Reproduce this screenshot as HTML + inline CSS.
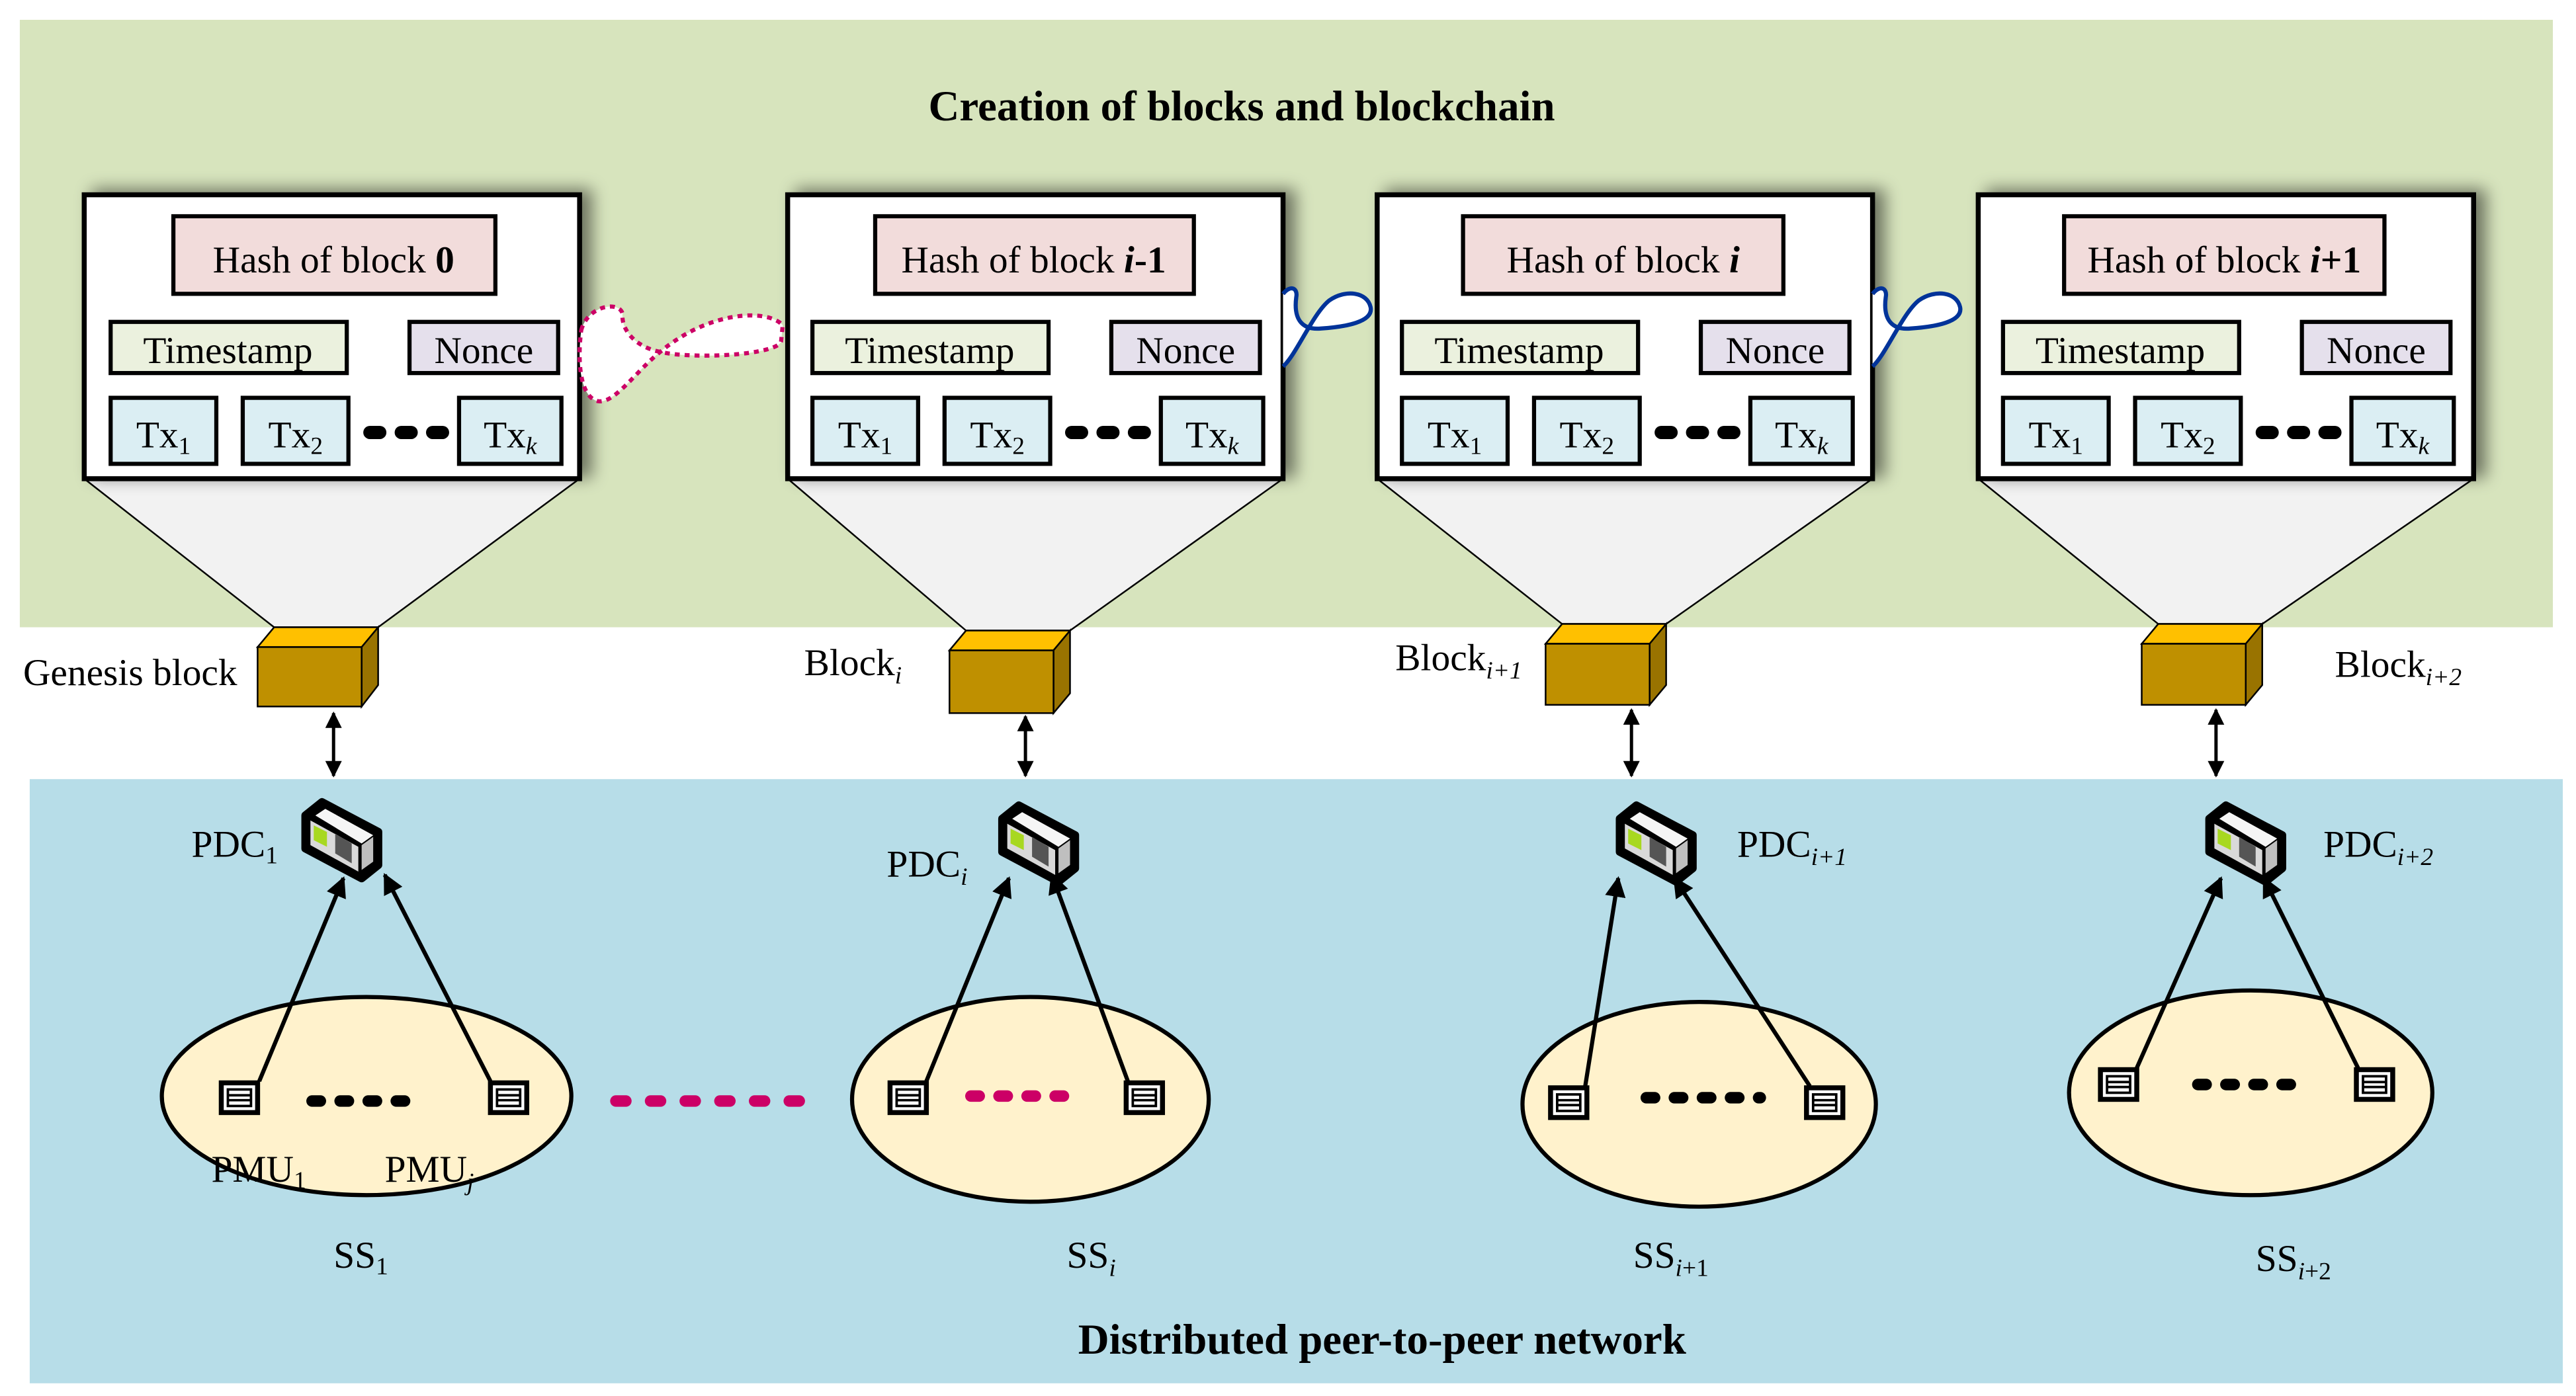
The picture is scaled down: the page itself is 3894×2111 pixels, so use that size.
<!DOCTYPE html>
<html><head><meta charset="utf-8"><style>html,body{margin:0;padding:0;background:#fff}svg{display:block}</style></head>
<body>
<svg xmlns="http://www.w3.org/2000/svg" width="3894" height="2111" viewBox="0 0 1560 845.7" font-family="Liberation Serif, serif">
<defs>
<filter id="sh" x="-10%" y="-10%" width="130%" height="130%"><feGaussianBlur in="SourceAlpha" stdDeviation="5"/><feOffset dx="6" dy="-2"/><feComponentTransfer><feFuncA type="linear" slope="0.5"/></feComponentTransfer><feMerge><feMergeNode/><feMergeNode in="SourceGraphic"/></feMerge></filter>
<marker id="ah" viewBox="0 0 10 10" refX="9" refY="5" markerWidth="5" markerHeight="5" orient="auto-start-reverse"><path d="M0,0 L10,5 L0,10 Z" fill="#000"/></marker>
<g id="pdc">
<path d="M4,8 L14,0 L48,18 L48,38 L38,46 L4,28 Z" fill="#000" stroke="#000" stroke-width="5" stroke-linejoin="round"/>
<path d="M7,11 L36,27 L36,42 L7,26 Z" fill="#d9d9d9"/>
<path d="M10,8 L16,4 L45,20 L38,25 Z" fill="#f5f5f5"/>
<path d="M38,26 L45,21 L45,36 L38,41 Z" fill="#bfbfbf"/>
<path d="M9,14 L17,18 L17,27 L9,23 Z" fill="#a8d820"/>
<path d="M22,19 L32,25 L32,37 L22,31 Z" fill="#555"/>
</g>
<g id="pmu">
<rect x="-11" y="-9" width="22" height="18" fill="#fff" stroke="#000" stroke-width="3"/>
<rect x="-7" y="-5" width="14" height="10" fill="#fff" stroke="#000" stroke-width="1.5"/>
<line x1="-7" y1="-1.5" x2="7" y2="-1.5" stroke="#000" stroke-width="1.5"/>
<line x1="-7" y1="1.5" x2="7" y2="1.5" stroke="#000" stroke-width="1.5"/>
</g>
</defs>

<rect x="12" y="12" width="1534" height="368" fill="#d7e4bd"/>
<rect x="18" y="472" width="1534" height="366" fill="#b7dde8"/>
<text x="752" y="73" font-size="26" font-weight="bold" text-anchor="middle">Creation of blocks and blockchain</text>
<text x="837" y="820" font-size="26" font-weight="bold" text-anchor="middle">Distributed peer-to-peer network</text>

<g fill="#f2f2f2" stroke="#000" stroke-width="1">
<polygon points="51,290 351,290 229,380 166,380"/>
<polygon points="477,290 777,290 648,382 585,382"/>
<polygon points="834,290 1134,290 1009,378 946,378"/>
<polygon points="1198,290 1498,290 1370,378 1307,378"/>
</g>

<g filter="url(#sh)" fill="#fff" stroke="#000" stroke-width="3">
<rect x="51" y="118" width="300" height="172"/>
<rect x="477" y="118" width="300" height="172"/>
<rect x="834" y="118" width="300" height="172"/>
<rect x="1198" y="118" width="300" height="172"/>
</g>

<g stroke="#000" stroke-width="2.5">
<rect x="105" y="131" width="195" height="47" fill="#f2dcdb"/>
<rect x="67" y="195" width="143" height="31" fill="#ebf1de"/>
<rect x="248" y="195" width="90" height="31" fill="#e5e0ec"/>
<rect x="67" y="241" width="64" height="40" fill="#dbeef3"/>
<rect x="147" y="241" width="64" height="40" fill="#dbeef3"/>
<rect x="278" y="241" width="62" height="40" fill="#dbeef3"/>
<rect x="530" y="131" width="193" height="47" fill="#f2dcdb"/>
<rect x="492" y="195" width="143" height="31" fill="#ebf1de"/>
<rect x="673" y="195" width="90" height="31" fill="#e5e0ec"/>
<rect x="492" y="241" width="64" height="40" fill="#dbeef3"/>
<rect x="572" y="241" width="64" height="40" fill="#dbeef3"/>
<rect x="703" y="241" width="62" height="40" fill="#dbeef3"/>
<rect x="886" y="131" width="194" height="47" fill="#f2dcdb"/>
<rect x="849" y="195" width="143" height="31" fill="#ebf1de"/>
<rect x="1030" y="195" width="90" height="31" fill="#e5e0ec"/>
<rect x="849" y="241" width="64" height="40" fill="#dbeef3"/>
<rect x="929" y="241" width="64" height="40" fill="#dbeef3"/>
<rect x="1060" y="241" width="62" height="40" fill="#dbeef3"/>
<rect x="1250" y="131" width="194" height="47" fill="#f2dcdb"/>
<rect x="1213" y="195" width="143" height="31" fill="#ebf1de"/>
<rect x="1394" y="195" width="90" height="31" fill="#e5e0ec"/>
<rect x="1213" y="241" width="64" height="40" fill="#dbeef3"/>
<rect x="1293" y="241" width="64" height="40" fill="#dbeef3"/>
<rect x="1424" y="241" width="62" height="40" fill="#dbeef3"/>
</g>

<g stroke="#000" stroke-width="8" stroke-linecap="round" stroke-dasharray="6 13">
<line x1="224" y1="262" x2="270" y2="262"/>
<line x1="649" y1="262" x2="695" y2="262"/>
<line x1="1006" y1="262" x2="1052" y2="262"/>
<line x1="1370" y1="262" x2="1416" y2="262"/>
</g>

<g font-size="23" text-anchor="middle">
<text x="202" y="165">Hash of block <tspan font-weight="bold">0</tspan></text>
<text x="138" y="220">Timestamp</text><text x="293" y="220">Nonce</text>
<text x="99" y="271">Tx<tspan font-size="15" dy="4">1</tspan></text>
<text x="179" y="271">Tx<tspan font-size="15" dy="4">2</tspan></text>
<text x="309" y="271">Tx<tspan font-size="15" dy="4" font-style="italic">k</tspan></text>

<text x="626" y="165">Hash of block <tspan font-weight="bold" font-style="italic">i</tspan><tspan font-weight="bold">-1</tspan></text>
<text x="563" y="220">Timestamp</text><text x="718" y="220">Nonce</text>
<text x="524" y="271">Tx<tspan font-size="15" dy="4">1</tspan></text>
<text x="604" y="271">Tx<tspan font-size="15" dy="4">2</tspan></text>
<text x="734" y="271">Tx<tspan font-size="15" dy="4" font-style="italic">k</tspan></text>

<text x="983" y="165">Hash of block <tspan font-weight="bold" font-style="italic">i</tspan></text>
<text x="920" y="220">Timestamp</text><text x="1075" y="220">Nonce</text>
<text x="881" y="271">Tx<tspan font-size="15" dy="4">1</tspan></text>
<text x="961" y="271">Tx<tspan font-size="15" dy="4">2</tspan></text>
<text x="1091" y="271">Tx<tspan font-size="15" dy="4" font-style="italic">k</tspan></text>

<text x="1347" y="165">Hash of block <tspan font-weight="bold" font-style="italic">i</tspan><tspan font-weight="bold">+1</tspan></text>
<text x="1284" y="220">Timestamp</text><text x="1439" y="220">Nonce</text>
<text x="1245" y="271">Tx<tspan font-size="15" dy="4">1</tspan></text>
<text x="1325" y="271">Tx<tspan font-size="15" dy="4">2</tspan></text>
<text x="1455" y="271">Tx<tspan font-size="15" dy="4" font-style="italic">k</tspan></text>
</g>

<path d="M352,200 C356,185 375,182 377,190 C376,200 385,210 399,213 C420,218 470,215 473,207 L474,197 C465,187 430,188 400,213 C385,225 372,245 362,243 C350,240 350,215 352,200 Z" fill="#fff" stroke="#cc0066" stroke-width="2.5" stroke-dasharray="3 3"/>
<path d="M777,178 C782,172 786,175 785,180 C783,195 790,200 800,199 C815,198 832,195 830,186 C828,177 815,175 805,182 C795,190 785,215 777,222" fill="#fff" stroke="#003399" stroke-width="2.5"/>
<path d="M1134,178 C1139,172 1143,175 1142,180 C1140,195 1147,200 1157,199 C1172,198 1189,195 1187,186 C1185,177 1172,175 1162,182 C1152,190 1142,215 1134,222" fill="#fff" stroke="#003399" stroke-width="2.5"/>

<g stroke="#000" stroke-width="1">
<g transform="translate(156,392)"><polygon points="0,0 10,-12 73,-12 63,0" fill="#ffc000"/><polygon points="63,0 73,-12 73,23 63,36" fill="#997300"/><rect width="63" height="36" fill="#bf9000"/></g>
<g transform="translate(575,394)"><polygon points="0,0 10,-12 73,-12 63,0" fill="#ffc000"/><polygon points="63,0 73,-12 73,26 63,38" fill="#997300"/><rect width="63" height="38" fill="#bf9000"/></g>
<g transform="translate(936,390)"><polygon points="0,0 10,-12 73,-12 63,0" fill="#ffc000"/><polygon points="63,0 73,-12 73,25 63,37" fill="#997300"/><rect width="63" height="37" fill="#bf9000"/></g>
<g transform="translate(1297,390)"><polygon points="0,0 10,-12 73,-12 63,0" fill="#ffc000"/><polygon points="63,0 73,-12 73,25 63,37" fill="#997300"/><rect width="63" height="37" fill="#bf9000"/></g>
</g>

<g font-size="23">
<text x="14" y="415">Genesis block</text>
<text x="487" y="409">Block<tspan font-size="15" dy="5" font-style="italic">i</tspan></text>
<text x="845" y="406">Block<tspan font-size="15" dy="5" font-style="italic">i+1</tspan></text>
<text x="1414" y="410">Block<tspan font-size="15" dy="5" font-style="italic">i+2</tspan></text>
</g>

<g stroke="#000" stroke-width="2" marker-start="url(#ah)" marker-end="url(#ah)">
<line x1="202" y1="432" x2="202" y2="470"/>
<line x1="621" y1="434" x2="621" y2="470"/>
<line x1="988" y1="430" x2="988" y2="470"/>
<line x1="1342" y1="430" x2="1342" y2="470"/>
</g>

<g fill="#fff2cc" stroke="#000" stroke-width="2.5">
<ellipse cx="222" cy="664" rx="124" ry="60"/>
<ellipse cx="624" cy="666" rx="108" ry="62"/>
<ellipse cx="1029" cy="669" rx="107" ry="62"/>
<ellipse cx="1363" cy="662" rx="110" ry="62"/>
</g>

<use href="#pdc" x="181" y="486"/>
<use href="#pdc" x="603" y="488"/>
<use href="#pdc" x="977" y="488"/>
<use href="#pdc" x="1334" y="488"/>

<use href="#pmu" x="145" y="665"/><use href="#pmu" x="308" y="665"/>
<use href="#pmu" x="550" y="665"/><use href="#pmu" x="693" y="665"/>
<use href="#pmu" x="950" y="668"/><use href="#pmu" x="1105" y="668"/>
<use href="#pmu" x="1283" y="657"/><use href="#pmu" x="1438" y="657"/>

<g stroke="#000" stroke-width="2.5" marker-end="url(#ah)">
<line x1="157" y1="655" x2="208" y2="532"/>
<line x1="297" y1="655" x2="233" y2="530"/>
<line x1="561" y1="655" x2="611" y2="532"/>
<line x1="683" y1="655" x2="637" y2="530"/>
<line x1="960" y1="658" x2="980" y2="532"/>
<line x1="1096" y1="658" x2="1014" y2="532"/>
<line x1="1294" y1="647" x2="1345" y2="532"/>
<line x1="1428" y1="647" x2="1371" y2="532"/>
</g>

<g stroke-width="7" stroke-linecap="round" stroke-dasharray="5 12">
<line x1="189" y1="667" x2="255" y2="667" stroke="#000"/>
<line x1="997" y1="665" x2="1066" y2="665" stroke="#000"/>
<line x1="1331" y1="657" x2="1398" y2="657" stroke="#000"/>
<line x1="588" y1="664" x2="654" y2="664" stroke="#cc0066"/>
<line x1="373" y1="667" x2="497" y2="667" stroke="#cc0066" stroke-dasharray="6 15"/>
</g>

<g font-size="23">
<text x="116" y="519">PDC<tspan font-size="15" dy="4">1</tspan></text>
<text x="537" y="531">PDC<tspan font-size="15" dy="5" font-style="italic">i</tspan></text>
<text x="1052" y="519">PDC<tspan font-size="15" dy="5" font-style="italic">i+1</tspan></text>
<text x="1407" y="519">PDC<tspan font-size="15" dy="5" font-style="italic">i+2</tspan></text>
<text x="128" y="716">PMU<tspan font-size="15" dy="4">1</tspan></text>
<text x="233" y="716">PMU<tspan font-size="15" dy="5" font-style="italic">j</tspan></text>
<text x="202" y="768">SS<tspan font-size="15" dy="4">1</tspan></text>
<text x="646" y="768">SS<tspan font-size="15" dy="5" font-style="italic">i</tspan></text>
<text x="989" y="768">SS<tspan font-size="15" dy="5" font-style="italic">i</tspan><tspan font-size="15">+1</tspan></text>
<text x="1366" y="770">SS<tspan font-size="15" dy="5" font-style="italic">i</tspan><tspan font-size="15">+2</tspan></text>
</g>
</svg>
</body></html>
